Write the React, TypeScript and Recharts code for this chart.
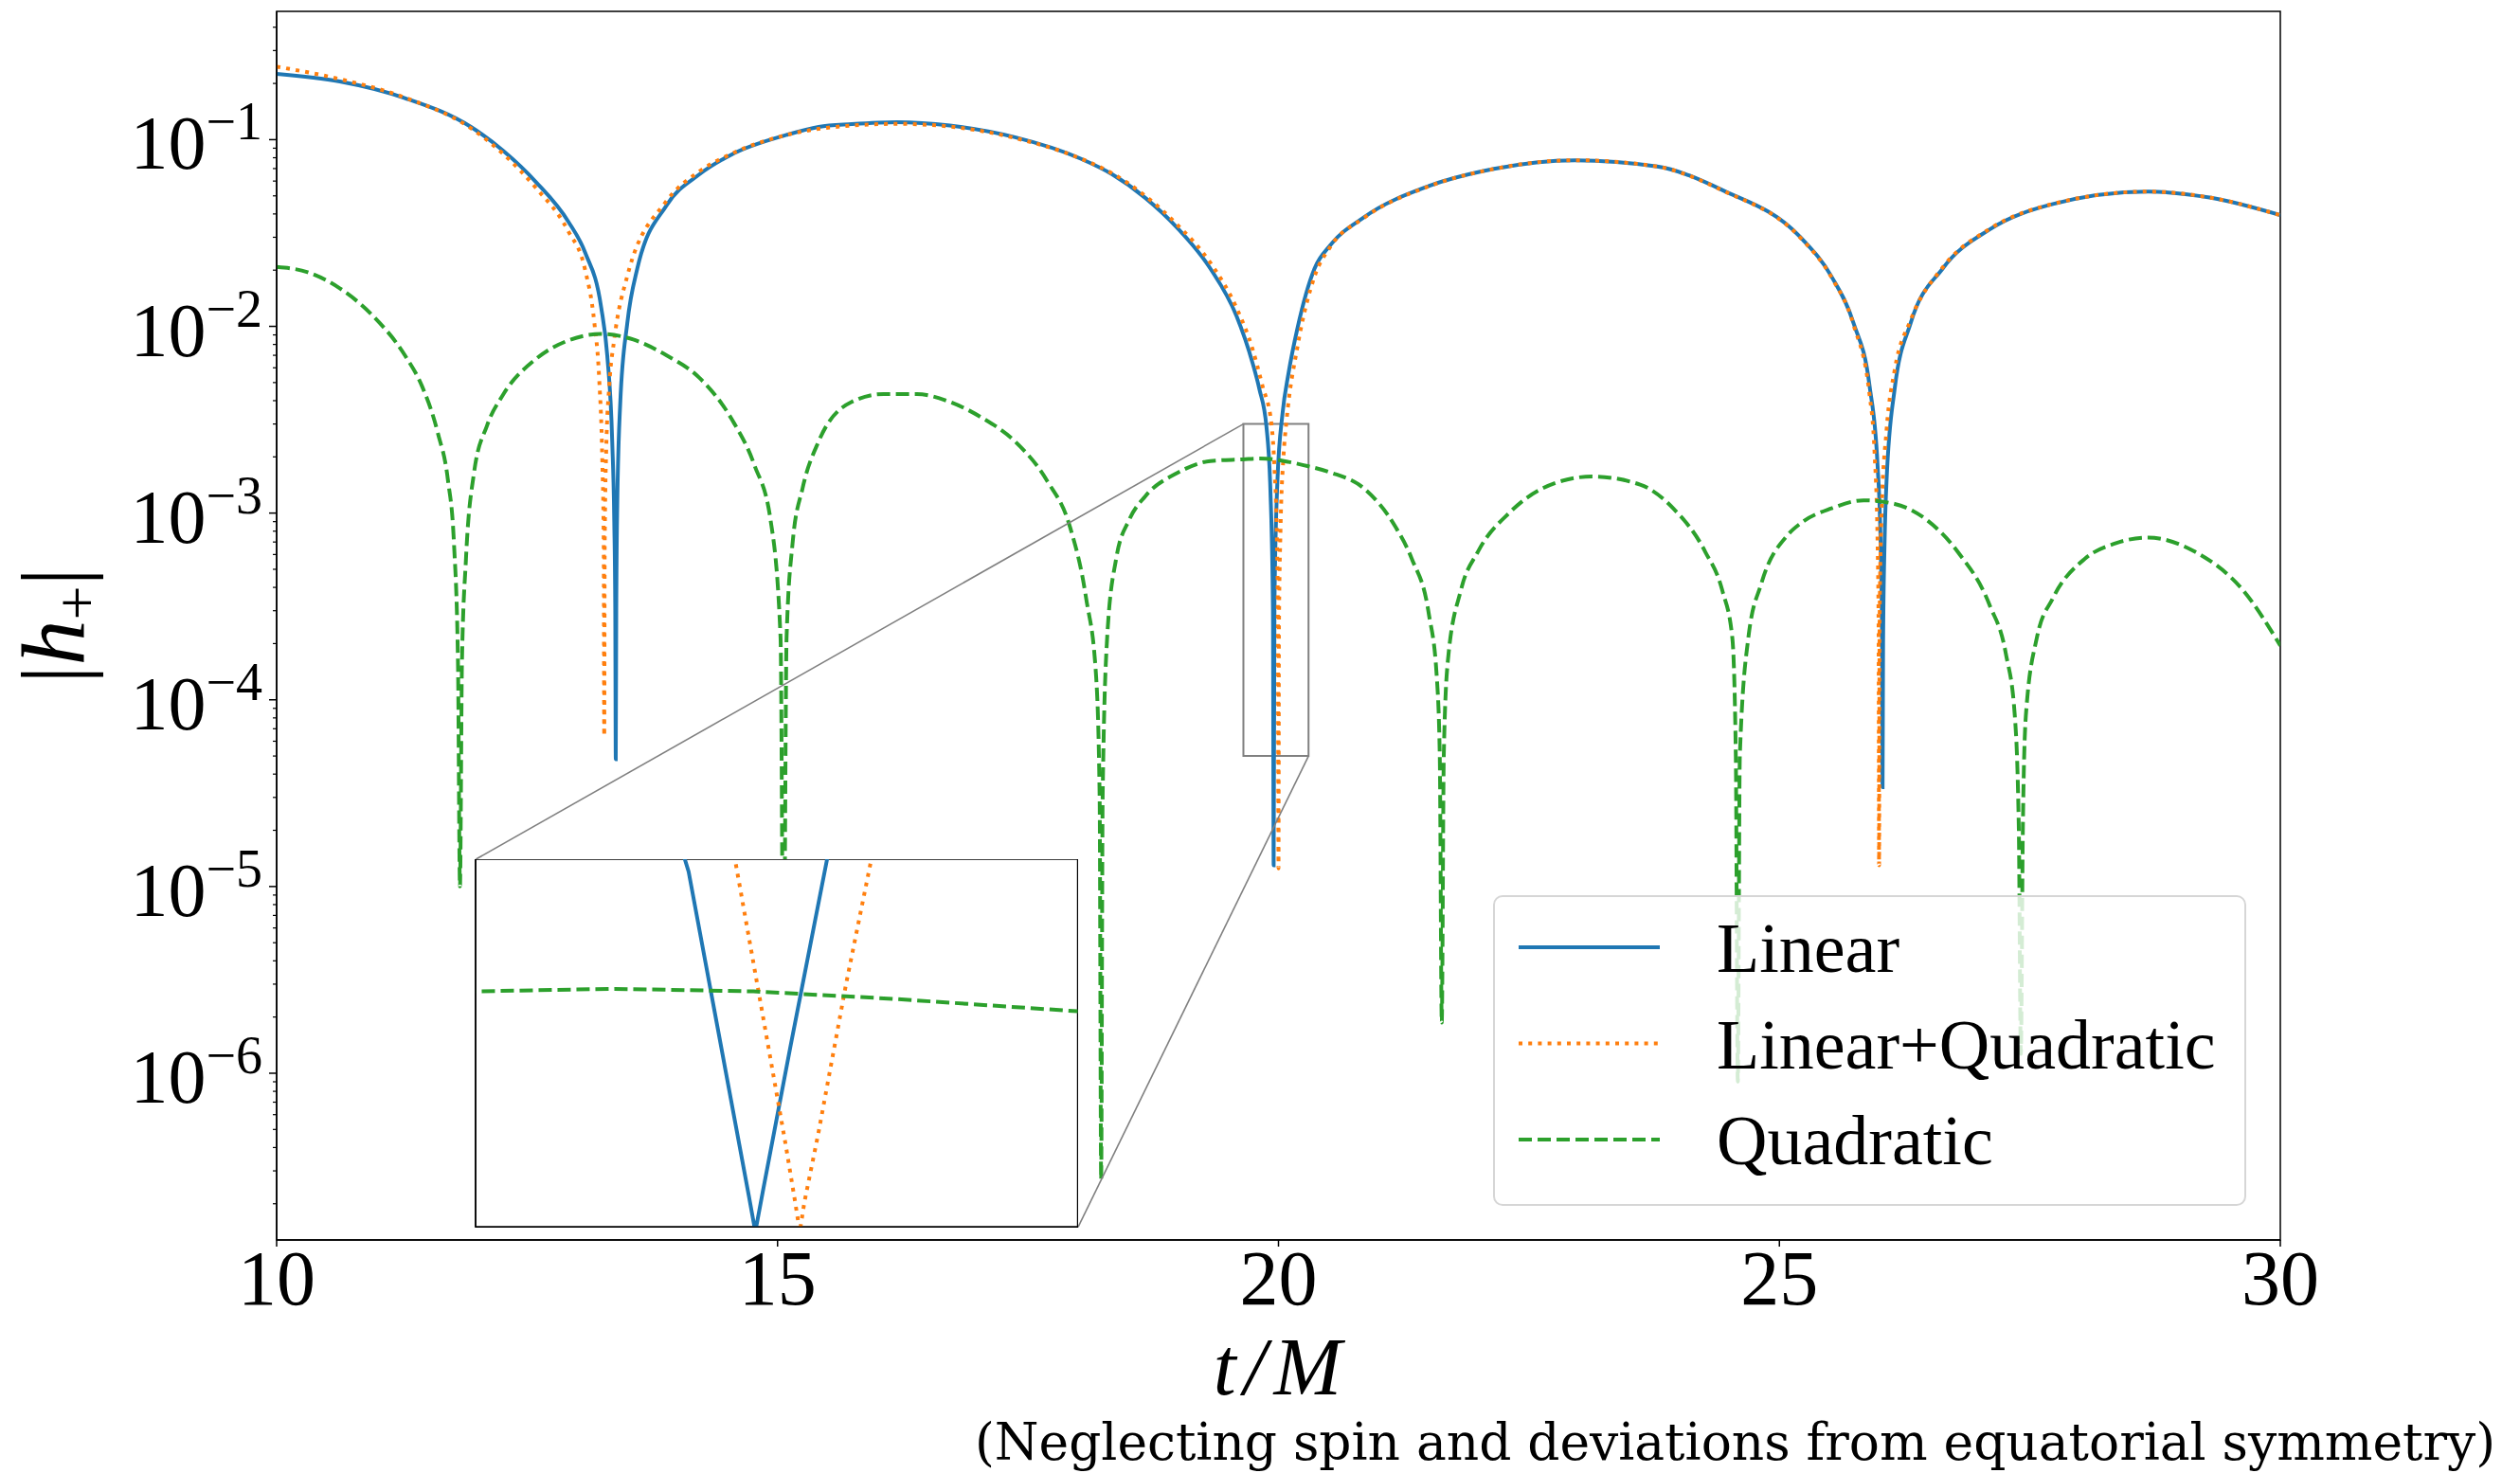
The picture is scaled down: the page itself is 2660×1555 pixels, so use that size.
import React from "react"
import { LineChart, Line, XAxis, YAxis, ReferenceArea, ReferenceLine, CartesianGrid } from "recharts"

// |h+| against t/M
const linearT = [10.0, 10.63, 11.28, 11.94, 12.26, 12.59, 12.91, 13.08, 13.24, 13.30, 13.35, 13.37, 13.38, 13.385, 13.39, 13.40, 13.43, 13.50, 13.60, 13.89, 14.22, 14.54, 15.09, 15.41, 15.74, 16.19, 16.72, 17.37, 18.02, 18.34, 18.67, 18.99, 19.32, 19.58, 19.74, 19.81, 19.88, 19.92, 19.945, 19.952, 19.96, 19.99, 20.04, 20.10, 20.19, 20.36, 20.52, 20.85, 21.50, 22.15, 22.96, 23.78, 24.43, 25.21, 25.52, 25.74, 25.90, 25.98, 26.01, 26.025, 26.03, 26.035, 26.05, 26.07, 26.15, 26.31, 26.63, 27.10, 27.73, 28.68, 29.31, 30.0]
const linearH = [0.225, 0.205, 0.167, 0.117, 0.0873, 0.0592, 0.0365, 0.0248, 0.0126, 7.0e-3, 2.4e-3, 9e-4, 3e-4, 4.8e-5, 3e-4, 1.1e-3, 3.9e-3, 0.0104, 0.0204, 0.0443, 0.0652, 0.0832, 0.106, 0.117, 0.121, 0.124, 0.119, 0.103, 0.0793, 0.0652, 0.0488, 0.0337, 0.0204, 0.0114, 6.4e-3, 4.6e-3, 2.9e-3, 1.3e-3, 3e-4, 1.3e-5, 3.3e-4, 1.5e-3, 3.4e-3, 5.6e-3, 9.8e-3, 0.0204, 0.0273, 0.0383, 0.0564, 0.0698, 0.0776, 0.0718, 0.0537, 0.030, 0.0185, 0.0104, 4.8e-3, 1.8e-3, 7e-4, 2e-4, 3.4e-5, 2e-4, 7e-4, 1.5e-3, 4.6e-3, 0.0104, 0.0204, 0.0331, 0.0452, 0.0527, 0.0488, 0.0394]

const fullT = [10.0, 10.63, 11.28, 11.94, 12.26, 12.59, 12.91, 13.08, 13.17, 13.22, 13.25, 13.265, 13.27, 13.275, 13.29, 13.32, 13.37, 13.50, 13.89, 14.22, 14.54, 15.09, 15.74, 16.19, 16.72, 17.37, 18.02, 18.34, 18.67, 18.99, 19.32, 19.58, 19.74, 19.84, 19.93, 19.96, 19.985, 19.995, 20.0, 20.005, 20.02, 20.05, 20.08, 20.19, 20.36, 20.52, 20.85, 21.50, 22.15, 22.96, 23.78, 24.43, 25.21, 25.52, 25.74, 25.90, 25.95, 25.98, 25.99, 25.995, 26.0, 26.02, 26.07, 26.15, 26.31, 26.63, 27.10, 27.73, 28.68, 29.31, 30.0]
const fullH = [0.246, 0.211, 0.168, 0.115, 0.084, 0.055, 0.0324, 0.020, 0.0106, 5.2e-3, 2.0e-3, 7e-4, 6.4e-5, 7e-4, 2.2e-3, 4.8e-3, 8.5e-3, 0.0186, 0.0468, 0.0676, 0.084, 0.106, 0.119, 0.1215, 0.1175, 0.102, 0.0794, 0.066, 0.050, 0.035, 0.0219, 0.0126, 7.6e-3, 4.8e-3, 3.0e-3, 1.75e-3, 7e-4, 2.5e-4, 1.25e-5, 2.5e-4, 8e-4, 2.0e-3, 3.1e-3, 7.8e-3, 0.0185, 0.0268, 0.038, 0.0562, 0.0697, 0.0776, 0.0718, 0.0535, 0.0298, 0.0183, 0.0102, 4.3e-3, 2.1e-3, 7e-4, 2.5e-4, 1.3e-5, 2.5e-4, 1.0e-3, 2.8e-3, 5.8e-3, 0.0108, 0.0207, 0.0333, 0.0453, 0.0527, 0.0488, 0.0394]

const quadT = [10.0, 10.31, 10.63, 10.96, 11.28, 11.45, 11.61, 11.71, 11.77, 11.81, 11.83, 11.85, 11.89, 11.97, 12.10, 12.26, 12.59, 12.91, 13.24, 13.56, 13.89, 14.22, 14.54, 14.77, 14.93, 15.03, 15.06, 15.09, 15.15, 15.25, 15.41, 15.74, 16.06, 16.39, 16.72, 17.04, 17.37, 17.69, 17.92, 18.08, 18.18, 18.215, 18.23, 18.245, 18.29, 18.38, 18.51, 18.67, 18.99, 19.32, 19.65, 19.80, 19.95, 20.10, 20.30, 20.52, 20.85, 21.17, 21.33, 21.50, 21.58, 21.61, 21.63, 21.65, 21.69, 21.82, 21.99, 22.31, 22.64, 23.13, 23.61, 23.94, 24.26, 24.43, 24.53, 24.565, 24.585, 24.605, 24.69, 24.82, 25.08, 25.21, 25.52, 25.84, 26.15, 26.47, 26.78, 27.10, 27.26, 27.35, 27.39, 27.41, 27.43, 27.46, 27.57, 27.73, 28.05, 28.36, 28.68, 29.15, 29.63, 30.0]
const quadH = [0.0208, 0.0195, 0.016, 0.0114, 7.0e-3, 4.8e-3, 2.67e-3, 1.5e-3, 6.9e-4, 1.6e-4, 1.0e-5, 1.6e-4, 5.7e-4, 1.64e-3, 2.94e-3, 4.3e-3, 6.7e-3, 8.4e-3, 9.1e-3, 8.5e-3, 7.0e-3, 5.3e-3, 3.2e-3, 1.8e-3, 9.2e-4, 2.15e-4, 2e-6, 2.15e-4, 6.9e-4, 1.36e-3, 2.42e-3, 3.94e-3, 4.34e-3, 4.34e-3, 3.94e-3, 3.24e-3, 2.42e-3, 1.49e-3, 8.4e-4, 3.5e-4, 1.33e-4, 3e-5, 2.7e-7, 3e-5, 2.15e-4, 5.7e-4, 9.2e-4, 1.23e-3, 1.64e-3, 1.9e-3, 1.94e-3, 1.96e-3, 1.94e-3, 1.88e-3, 1.78e-3, 1.65e-3, 1.36e-3, 8.4e-4, 5.7e-4, 2.9e-4, 1.33e-4, 5e-5, 1.87e-6, 5e-5, 1.6e-4, 3.85e-4, 6.2e-4, 1.01e-3, 1.36e-3, 1.57e-3, 1.42e-3, 1.06e-3, 6.2e-4, 3.85e-4, 2.15e-4, 5e-5, 9e-7, 5e-5, 2.15e-4, 4.2e-4, 7.6e-4, 8.8e-4, 1.06e-3, 1.17e-3, 1.12e-3, 9.2e-4, 6.2e-4, 3.2e-4, 1.77e-4, 8.2e-5, 2e-5, 1.27e-6, 2e-5, 8.2e-5, 2.15e-4, 3.5e-4, 5.7e-4, 6.9e-4, 7.4e-4, 6.2e-4, 3.85e-4, 1.95e-4]

const X_TICKS = [10, 15, 20, 25, 30]
const Y_EXPONENTS = [-6, -5, -4, -3, -2, -1]
const INSET_X_TICKS = [19.75, 20, 20.25]
const INSET_Y_TICKS = [0.001, 0.002]

const X_DOMAIN: [number, number] = [10, 30]
const Y_DOMAIN: [number, number] = [Math.pow(10, -6.893), Math.pow(10, -0.313)]
const INSET_X_DOMAIN: [number, number] = [19.65, 20.3]
const INSET_Y_DOMAIN: [number, number] = [5e-5, 3e-3]
// where the inset axes sit, given in the main axes' data coordinates
const INSET_BOX = { t0: 11.99, t1: 18.0, hLow: 1.5e-7, hHigh: 1.4e-5 }

const W = 2660
const H = 1555
const PLOT = { left: 292, top: 12, right: 2407, bottom: 1309 }
const SERIF = '"Liberation Serif", "Times New Roman", serif'
const LW = 4

const toPoints = (ts: number[], hs: number[]) => ts.map((t, i) => ({ t, h: hs[i] }))

const SERIES = [
  { name: "Linear", data: toPoints(linearT, linearH), color: "#1f77b4", dash: undefined as string | undefined },
  { name: "Linear+Quadratic", data: toPoints(fullT, fullH), color: "#ff7f0e", dash: "4 6.2" },
  { name: "Quadratic", data: toPoints(quadT, quadH), color: "#2ca02c", dash: "14 6" },
]

// major + minor ticks of the log axis
const yTicks: number[] = []
for (let e = -7; e <= -1; e++) {
  for (let m = 1; m <= 9; m++) {
    const v = m * Math.pow(10, e)
    if (v >= Y_DOMAIN[0] && v <= Y_DOMAIN[1]) yTicks.push(v)
  }
}

// main axes -> page pixels, only used to place the inset box
const pxX = (t: number) => PLOT.left + ((t - X_DOMAIN[0]) / (X_DOMAIN[1] - X_DOMAIN[0])) * (PLOT.right - PLOT.left)
const pxY = (h: number) => {
  const lo = Math.log10(Y_DOMAIN[0])
  const hi = Math.log10(Y_DOMAIN[1])
  return PLOT.top + ((hi - Math.log10(h)) / (hi - lo)) * (PLOT.bottom - PLOT.top)
}

function XTick(props: any) {
  const { x, y, payload } = props
  return (
    <g>
      <line x1={x} x2={x} y1={y} y2={y + 7} stroke="#000" strokeWidth={1.5} />
      <text x={x} y={y + 68} textAnchor="middle" fontFamily={SERIF} fontSize={82} fill="#000">
        {payload.value}
      </text>
    </g>
  )
}

function YTick(props: any) {
  const { x, y, payload } = props
  const e = Math.log10(payload.value)
  const k = Math.round(e)
  const major = Math.abs(e - k) < 1e-6 && Y_EXPONENTS.includes(k)
  return (
    <g>
      <line x1={x - (major ? 8 : 4)} x2={x} y1={y} y2={y} stroke="#000" strokeWidth={major ? 1.5 : 1.2} />
      {major && (
        <text x={x - 15} y={y + 31} textAnchor="end" fontFamily={SERIF} fontSize={80} fill="#000">
          10
          <tspan dy={-31} fontSize={56}>{"\u2212" + Math.abs(k)}</tspan>
        </text>
      )}
    </g>
  )
}

const yLabel = () => {
  const x = 89
  const y = (PLOT.top + PLOT.bottom) / 2
  return (
    <text x={x} y={y} transform={`rotate(-90, ${x}, ${y})`} textAnchor="middle" fontFamily={SERIF} fontSize={96} fill="#000">
      |<tspan fontStyle="italic">h</tspan>
      <tspan fontSize={64} dy={14}>+</tspan>
      <tspan dy={-14}>|</tspan>
    </text>
  )
}

const xLabel = () => (
  <text x={(PLOT.left + PLOT.right) / 2 + 3} y={1472} textAnchor="middle" fontFamily={SERIF} fontStyle="italic" fontSize={86} letterSpacing={8} fill="#000">
    t/M
  </text>
)

function MainChart() {
  return (
    <LineChart width={W} height={H} margin={{ top: PLOT.top, right: W - PLOT.right, bottom: 0, left: 0 }}>
      <XAxis
        type="number"
        dataKey="t"
        domain={X_DOMAIN}
        ticks={X_TICKS}
        interval={0}
        allowDataOverflow
        height={H - PLOT.bottom}
        tickSize={0}
        tickMargin={0}
        tickLine={false}
        axisLine={{ stroke: "#000", strokeWidth: 1.5 }}
        tick={(p: any) => <XTick {...p} />}
        label={xLabel}
      />
      <YAxis
        type="number"
        scale="log"
        domain={Y_DOMAIN}
        ticks={yTicks}
        interval={0}
        allowDataOverflow
        width={PLOT.left}
        tickSize={0}
        tickMargin={0}
        tickLine={false}
        axisLine={{ stroke: "#000", strokeWidth: 1.5 }}
        tick={(p: any) => <YTick {...p} />}
        label={yLabel}
      />
      <ReferenceArea x1={X_DOMAIN[0]} x2={X_DOMAIN[1]} y1={Y_DOMAIN[0]} y2={Y_DOMAIN[1]} fill="none" stroke="#000" strokeWidth={1.5} ifOverflow="visible" />
      {SERIES.map((s) => (
        <Line
          key={s.name}
          data={s.data}
          dataKey="h"
          name={s.name}
          type="monotone"
          stroke={s.color}
          strokeWidth={LW}
          strokeDasharray={s.dash}
          dot={false}
          activeDot={false}
          isAnimationActive={false}
        />
      ))}
      <ReferenceArea
        x1={INSET_X_DOMAIN[0]}
        x2={INSET_X_DOMAIN[1]}
        y1={INSET_Y_DOMAIN[0]}
        y2={INSET_Y_DOMAIN[1]}
        fill="none"
        stroke="#808080"
        strokeWidth={2}
        ifOverflow="visible"
      />
      <ReferenceLine
        segment={[{ x: INSET_X_DOMAIN[0], y: INSET_Y_DOMAIN[1] }, { x: INSET_BOX.t0, y: INSET_BOX.hHigh }]}
        stroke="#808080"
        strokeWidth={1.6}
        ifOverflow="visible"
      />
      <ReferenceLine
        segment={[{ x: INSET_X_DOMAIN[1], y: INSET_Y_DOMAIN[0] }, { x: INSET_BOX.t1, y: INSET_BOX.hLow }]}
        stroke="#808080"
        strokeWidth={1.6}
        ifOverflow="visible"
      />
    </LineChart>
  )
}

function InsetChart() {
  const left = pxX(INSET_BOX.t0)
  const top = pxY(INSET_BOX.hHigh)
  const w = pxX(INSET_BOX.t1) - left
  const h = pxY(INSET_BOX.hLow) - top
  const yw = 20
  const xh = 12
  return (
    <div style={{ position: "absolute", left: left - yw, top, width: w + yw, height: h + xh }}>
      <LineChart width={w + yw} height={h + xh} margin={{ top: 0, right: 0, bottom: 0, left: 0 }}>
        <CartesianGrid horizontal={false} vertical={false} fill="#fff" fillOpacity={1} />
        <XAxis
          type="number"
          dataKey="t"
          domain={INSET_X_DOMAIN}
          ticks={INSET_X_TICKS}
          interval={0}
          allowDataOverflow
          height={xh}
          tick={false}
          tickSize={5}
          tickLine={{ stroke: "#000", strokeWidth: 1.3 }}
          axisLine={{ stroke: "#000", strokeWidth: 1.5 }}
        />
        <YAxis
          type="number"
          domain={INSET_Y_DOMAIN}
          ticks={INSET_Y_TICKS}
          interval={0}
          allowDataOverflow
          width={yw}
          tick={false}
          tickSize={5}
          tickLine={{ stroke: "#000", strokeWidth: 1.3 }}
          axisLine={{ stroke: "#000", strokeWidth: 1.5 }}
        />
        {SERIES.map((s) => (
          <Line
            key={s.name}
            data={s.data}
            dataKey="h"
            type="linear"
            stroke={s.color}
            strokeWidth={LW}
            strokeDasharray={s.dash}
            dot={false}
            activeDot={false}
            isAnimationActive={false}
          />
        ))}
        <ReferenceArea
          x1={INSET_X_DOMAIN[0]}
          x2={INSET_X_DOMAIN[1]}
          y1={INSET_Y_DOMAIN[0]}
          y2={INSET_Y_DOMAIN[1]}
          fill="none"
          stroke="#000"
          strokeWidth={1.5}
          ifOverflow="visible"
        />
      </LineChart>
    </div>
  )
}

function LegendBox() {
  return (
    <div
      style={{
        position: "absolute",
        left: 1576,
        top: 945,
        width: 795,
        height: 328,
        boxSizing: "border-box",
        border: "2px solid #d6d6d6",
        borderRadius: 10,
        background: "rgba(255,255,255,0.8)",
      }}
    >
      <svg width={791} height={324}>
        {SERIES.map((s, i) => {
          const cy = 53 + i * 101.5
          return (
            <g key={s.name}>
              <line x1={25} x2={174} y1={cy} y2={cy} stroke={s.color} strokeWidth={LW} strokeDasharray={s.dash} />
              <text x={234} y={cy + 26} fontFamily={SERIF} fontSize={74} fill="#000">
                {s.name}
              </text>
            </g>
          )
        })}
      </svg>
    </div>
  )
}

export default function App() {
  return (
    <div style={{ position: "absolute", left: 0, top: 0, width: W, height: H, background: "#fff", overflow: "hidden" }}>
      <MainChart />
      <InsetChart />
      <LegendBox />
      <svg style={{ position: "absolute", left: 0, top: 0, pointerEvents: "none" }} width={W} height={H}>
        <text x={1029} y={1541} fontFamily='"DejaVu Serif Condensed", "DejaVu Serif", serif' fontSize={54} textLength={1605} lengthAdjust="spacingAndGlyphs" fill="#000">
          (Neglecting spin and deviations from equatorial symmetry)
        </text>
      </svg>
    </div>
  )
}
